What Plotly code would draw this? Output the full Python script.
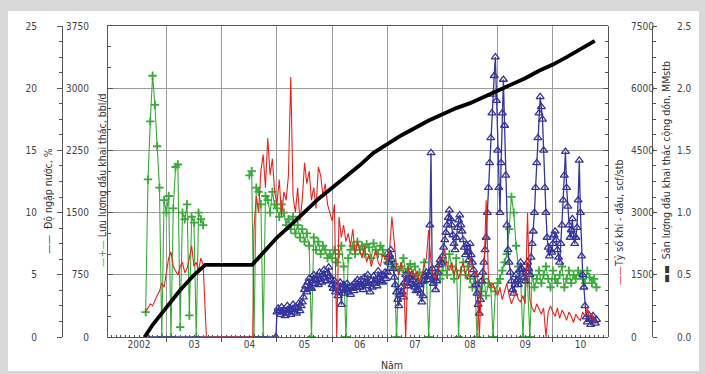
import numpy as np
import plotly.graph_objects as go

STEP = 1 / 24     # sampling interval of oil rate / GOR records (years)
STEP_WC = 1 / 48  # sampling interval of water-cut records (years)

# ---------------- data ----------------
# Oil rate, bbl/d (green, left inner axis)
oil_seg1_start = 2002.62
oil_seg1 = [300, 1900, 2600, 3150, 2800, 2300, 1800, 0, 1650, 1500, 1700, 0, 1550,
            2050, 2080, 120, 1500, 1420, 1600, 260, 1450, 1380, 0, 1500, 1420, 1350]
oil_seg2_start = 2004.50
oil_seg2 = [1950, 2000, 0, 1800, 1750, 1600, 0, 1700, 1650, 1500, 1750, 1600,
            1550, 1450, 1600, 1500, 1350, 1420, 1300, 1450, 1250, 1350, 1200, 1300,
            1150, 1250, 1100, 0, 1200, 1050, 1150, 1000, 1100, 1050, 950, 1000,
            950, 1050, 900, 1000, 1100, 850, 0, 950, 1050, 1100, 1000, 1150,
            1050, 1100, 1000, 1120, 1080, 950, 1130, 1050, 1000, 1100, 1050, 980,
            900, 950, 850, 880, 0, 800, 850, 950, 780, 820, 880, 760,
            850, 700, 780, 650, 900, 720, 0, 800, 680, 750, 850, 700,
            800, 900, 750, 1000, 850, 700, 950, 0, 800, 900, 750, 850,
            700, 600, 750, 0, 650, 550, 700, 500, 650, 600, 0, 550,
            650, 700, 800, 900, 1000, 1300, 1690, 1500, 1100, 850, 700, 0,
            700, 650, 0, 750, 600, 700, 800, 650, 750, 850, 700, 600,
            800, 700, 650, 750, 850, 600, 700, 800, 650, 750, 700, 800,
            750, 700, 650, 800, 720, 650, 700, 600]

# Gas-oil ratio, scf/stb (red, right inner axis)
gor_seg1_start = 2002.62
gor_seg1 = [600, 700, 800, 750, 900, 1000, 1100, 1300, 1200, 1600, 1900, 2050, 1700,
            1600, 1500, 1700, 1800, 1550, 1650, 1900, 2200, 1700, 1800, 1600, 1900, 1750]
gor_shut_years = [2003.72, 2004.56]
gor_shut_vals = [0, 0]
gor_seg2_start = 2004.583
gor_seg2 = [2600, 3400, 3000, 4000, 4400, 3600, 4800, 3900, 4300, 3500,
            3200, 3800, 2900, 3500, 3300, 3900, 6270, 3400, 3000, 3600, 2800, 3300,
            4200, 3700, 4000, 3300, 3600, 3100, 4100, 3900, 3400, 3700, 3200, 3000,
            2800, 3200, 0, 2900, 2400, 2700, 2300, 2500, 2200, 2600, 2000, 2300,
            2100, 1900, 2200, 1800, 2000, 1700, 1900, 2100, 1800, 1700, 2000, 1900,
            1800, 2100, 2900, 2300, 1700, 1500, 1800, 1600, 0, 1700, 1500, 1600,
            1400, 1600, 1300, 1500, 1700, 1900, 2580, 1800, 1500, 1400, 1600, 1900,
            1900, 2100, 1700, 1600, 1800, 1500, 1700, 1400, 1600, 1800, 1500, 1400,
            1900, 1700, 1500, 1600, 0, 1300, 1500, 3300, 1400, 1200, 1300, 1100,
            1000, 1200, 900, 1100, 1300, 1000, 800, 950, 1100, 900, 850, 1000,
            800, 2990, 900, 700, 600, 800, 650, 550, 700, 0, 600, 750,
            600, 500, 700, 450, 650, 550, 400, 600, 500, 350, 550, 450,
            400, 600, 500, 700, 450, 550, 350, 400]

# Water cut, % (blue, left outer axis)
wc_zero_years = [2002.65, 2004.98]
wc_zero_vals = [0, 0]
wc_start = 2005.0
wc_vals = [2.0, 2.3, 2.1, 1.8, 2.4, 2.0, 2.2, 1.7, 1.9, 2.5, 2.1, 2.3,
           1.8, 2.2, 2.6, 2.0, 2.4, 1.9, 2.3, 2.7, 2.1, 2.5, 2.8, 3.2,
           3.8, 4.1, 3.6, 4.4, 4.7, 4.0, 3.9, 4.5, 5.0, 4.3, 4.6, 4.9,
           4.2, 5.2, 4.7, 4.4, 5.0, 5.4, 4.8, 4.5, 5.1, 5.6, 4.9, 4.6,
           4.2, 3.9, 4.5, 3.6, 4.0, 3.3, 3.7, 4.4, 2.6, 3.9, 4.2, 3.5,
           3.8, 4.3, 3.6, 4.0, 3.4, 4.1, 3.9, 3.7, 4.4, 4.0, 4.6, 4.2,
           4.0, 4.6, 4.2, 3.8, 4.8, 4.4, 4.1, 5.0, 4.3, 3.6, 4.5, 4.0,
           4.9, 4.3, 4.6, 4.1, 5.3, 4.8, 4.5, 5.0, 4.4, 4.9, 5.2, 4.7,
           5.2, 6.0, 6.6, 7.0, 6.2, 5.5, 4.8, 4.2, 3.6, 3.0, 2.5, 3.4,
           4.0, 3.6, 3.2, 4.4, 5.0, 4.6, 4.1, 4.8, 4.3, 5.0, 4.6, 4.2,
           4.0, 3.7, 4.4, 3.8, 4.2, 3.5, 2.8, 3.3, 4.5, 4.9, 5.2, 4.6,
           5.0, 9.0, 14.8, 5.5, 4.3, 4.8, 3.8, 4.5, 5.2, 5.8, 6.2, 6.0,
           6.5, 7.2, 7.8, 8.4, 9.0, 9.6, 10.2, 9.5, 9.0, 8.2, 7.5, 7.0,
           8.0, 8.8, 9.4, 9.8, 9.0, 8.5, 7.8, 7.2, 6.6, 7.4, 6.8, 6.2,
           7.5, 6.6, 6.0, 5.4, 5.0, 4.2, 3.5, 2.6, 1.9, 3.0, 4.5, 5.2,
           6.0, 7.0, 8.0, 10.0, 12.0, 14.0, 16.0, 18.0, 19.5, 21.0, 22.5, 19.0,
           15.0, 12.0, 10.0, 14.0, 18.0, 20.7, 17.0, 13.0, 9.0, 7.0, 6.0, 5.2,
           4.5, 3.8, 3.5, 4.2, 5.0, 4.6, 4.2, 5.4, 6.0, 5.5, 5.2, 4.8,
           4.5, 5.2, 6.0, 5.5, 5.0, 6.4, 7.5, 8.5, 10.0, 12.0, 14.0, 16.0,
           18.0, 19.3, 18.5, 17.5, 15.0, 12.0, 10.0, 8.0, 7.2, 6.5, 7.0, 6.8,
           7.5, 8.2, 8.5, 7.8, 7.0, 6.4, 6.0, 7.5, 9.0, 11.0, 13.0, 14.9,
           12.0, 10.5, 9.0, 8.0, 8.6, 9.5, 8.2, 7.5, 8.0, 8.8, 11.0, 14.2,
           10.0, 6.5, 5.0, 4.0, 2.5, 1.6, 1.2, 1.8, 1.4, 1.0, 1.5, 1.7,
           1.3, 1.1, 1.4]

# Cumulative oil, MMstb (black, right outer axis)
cum_years = [2002.60, 2002.75, 2003.0, 2003.25, 2003.5, 2003.70, 2004.55, 2004.75,
             2005.0, 2005.25, 2005.5, 2005.75, 2006.0, 2006.25, 2006.5, 2006.75,
             2007.0, 2007.25, 2007.5, 2007.75, 2008.0, 2008.25, 2008.5, 2008.75,
             2009.0, 2009.25, 2009.5, 2009.75, 2010.0, 2010.25, 2010.5, 2010.76]
cum_vals = [0, 0.10, 0.24, 0.38, 0.50, 0.58, 0.58, 0.68,
            0.80, 0.90, 1.01, 1.11, 1.20, 1.29, 1.38, 1.48,
            1.55, 1.62, 1.68, 1.74, 1.79, 1.84, 1.88, 1.93,
            1.98, 2.03, 2.08, 2.14, 2.19, 2.25, 2.31, 2.38]

year_bounds = [2003, 2004, 2005, 2006, 2007, 2008, 2009, 2010]
year_label_pos = [2002.5, 2003.5, 2004.5, 2005.5, 2006.5, 2007.5, 2008.5, 2009.5, 2010.5]
year_labels = ["2002", "03", "04", "05", "06", "07", "08", "09", "10"]


def times(start, vals, step=STEP):
    return list(start + np.arange(len(vals)) * step)


oil_x = times(oil_seg1_start, oil_seg1) + [None] + times(oil_seg2_start, oil_seg2)
oil_y = oil_seg1 + [None] + oil_seg2
gor_x = times(gor_seg1_start, gor_seg1) + gor_shut_years + times(gor_seg2_start, gor_seg2)
gor_y = gor_seg1 + gor_shut_vals + gor_seg2
wc_x = wc_zero_years + times(wc_start, wc_vals, STEP_WC)
wc_y = wc_zero_vals + wc_vals

GREEN = "#3aab3a"
RED = "#e8231d"
BLUE = "#35359c"
AX = "#555555"
GRID = "#9c9c9c"
BORDER = "#d8d8d8"
FONT = "Liberation Sans Narrow, DejaVu Sans Condensed, Liberation Sans, Arial"
W, H = 705, 374


def px(x):
    return x / W


def py(y):
    return (H - y) / H


fig = go.Figure()
fig.add_trace(go.Scatter(x=oil_x, y=oil_y, mode="lines+markers", yaxis="y",
                         line=dict(color=GREEN, width=1.1),
                         marker=dict(symbol="cross-thin", size=6, color=GREEN,
                                     line=dict(color=GREEN, width=1.8)),
                         connectgaps=False, showlegend=False))
fig.add_trace(go.Scatter(x=gor_x, y=gor_y, mode="lines", yaxis="y3",
                         line=dict(color=RED, width=1.1), showlegend=False))
fig.add_trace(go.Scatter(x=wc_x, y=wc_y, mode="lines+markers", yaxis="y2",
                         line=dict(color=BLUE, width=1.3),
                         marker=dict(symbol="triangle-up-open", size=7, color=BLUE,
                                     line=dict(color=BLUE, width=1.3)),
                         showlegend=False))
fig.add_trace(go.Scatter(x=cum_years, y=cum_vals, mode="lines", yaxis="y4",
                         line=dict(color="black", width=3.8), showlegend=False))
# carrier trace for the label axis
fig.add_trace(go.Scatter(x=[2003], y=[None], xaxis="x2", yaxis="y",
                         showlegend=False, hoverinfo="skip"))

xdom = [px(108), px(608)]
ydom = [py(337), py(26)]
tickfont = dict(family=FONT, size=10, color="#444444")

border_rects = [(0, 0, 705, 11), (0, 371, 705, 374), (0, 0, 8, 374), (699, 0, 705, 374)]
shapes = [dict(type="rect", xref="paper", yref="paper", x0=px(a), x1=px(c),
               y0=py(d), y1=py(b), fillcolor=BORDER, line=dict(width=0), layer="above")
          for a, b, c, d in border_rects]

fig.update_layout(
    width=W, height=H,
    margin=dict(l=0, r=0, t=0, b=0, autoexpand=False),
    paper_bgcolor="white", plot_bgcolor="white",
    font=dict(family=FONT, size=10, color="#444444"),
    xaxis=dict(domain=xdom, range=[2001.937, 2011.0], tickmode="array",
               tickvals=year_bounds, showticklabels=False, ticks="outside", ticklen=4,
               tickcolor=AX, showgrid=True, gridcolor=GRID, gridwidth=1,
               showline=True, linecolor=AX, linewidth=1, mirror=True, zeroline=False,
               minor=dict(tick0=2002, dtick=1 / 12, ticks="inside", ticklen=2,
                          tickcolor=AX, showgrid=False),
               anchor="y"),
    xaxis2=dict(domain=xdom, range=[2001.937, 2011.0], overlaying="x", anchor="y",
                side="bottom", tickmode="array", tickvals=year_label_pos,
                ticktext=year_labels, ticks="", showgrid=False, showline=False,
                zeroline=False, tickfont=tickfont),
    yaxis=dict(domain=ydom, range=[0, 3750], tickmode="array",
               tickvals=[0, 750, 1500, 2250, 3000, 3750], ticks="inside", ticklen=5,
               tickcolor=AX, showgrid=True, gridcolor=GRID, showline=True, linecolor=AX,
               zeroline=False, side="left", anchor="x", tickfont=tickfont,
               ticklabelstandoff=16,
               minor=dict(dtick=250, ticks="inside", ticklen=3, tickcolor=AX)),
    yaxis2=dict(domain=ydom, range=[0, 25], overlaying="y", anchor="free",
                position=px(62), side="left", tickvals=[0, 5, 10, 15, 20, 25],
                ticks="outside", ticklen=5, tickcolor=AX, showgrid=False,
                showline=True, linecolor=AX, zeroline=False, tickfont=tickfont,
                ticklabelstandoff=18,
                minor=dict(dtick=1.25, ticks="outside", ticklen=3, tickcolor=AX)),
    yaxis3=dict(domain=ydom, range=[0, 7500], overlaying="y", anchor="free",
                position=px(608), side="right",
                tickvals=[0, 1500, 3000, 4500, 6000, 7500], ticks="inside", ticklen=5,
                tickcolor=AX, showgrid=False, showline=True, linecolor=AX,
                zeroline=False, tickfont=tickfont, ticklabelstandoff=20,
                minor=dict(dtick=375, ticks="inside", ticklen=3, tickcolor=AX)),
    yaxis4=dict(domain=ydom, range=[0, 2.5], overlaying="y", anchor="free",
                position=px(652), side="right",
                tickvals=[0, 0.5, 1.0, 1.5, 2.0, 2.5], tickformat=".1f",
                ticks="outside", ticklen=4, tickcolor=AX, showgrid=False,
                showline=True, linecolor=AX, zeroline=False, tickfont=tickfont,
                ticklabelstandoff=18,
                minor=dict(dtick=0.125, ticks="outside", ticklen=3, tickcolor=AX)),
    shapes=shapes,
)

tfont = dict(family=FONT, size=10.5, color="#333333")
ann = [
    dict(x=px(49), y=py(201),
         text=f"<span style='color:{BLUE}'>——</span>  Độ ngập nước, %"),
    dict(x=px(102), y=py(180),
         text=f"<span style='color:{GREEN}'>—+—</span> Lưu lượng dầu khai thác, bbl/d"),
    dict(x=px(619), y=py(223),
         text=f"<span style='color:{RED}'>——</span>Tỷ số khí - dầu, scf/stb"),
    dict(x=px(667), y=py(172),
         text="<b>▬▬</b>  Sản lượng dầu khai thác cộng dồn, MMstb"),
]
for a in ann:
    fig.add_annotation(xref="paper", yref="paper", showarrow=False, textangle=-90,
                       font=tfont, xanchor="center", yanchor="middle", **a)
fig.add_annotation(xref="paper", yref="paper", x=px(392), y=py(365), text="Năm",
                   showarrow=False, font=tfont, xanchor="center", yanchor="middle")

fig.write_html("out.html")
